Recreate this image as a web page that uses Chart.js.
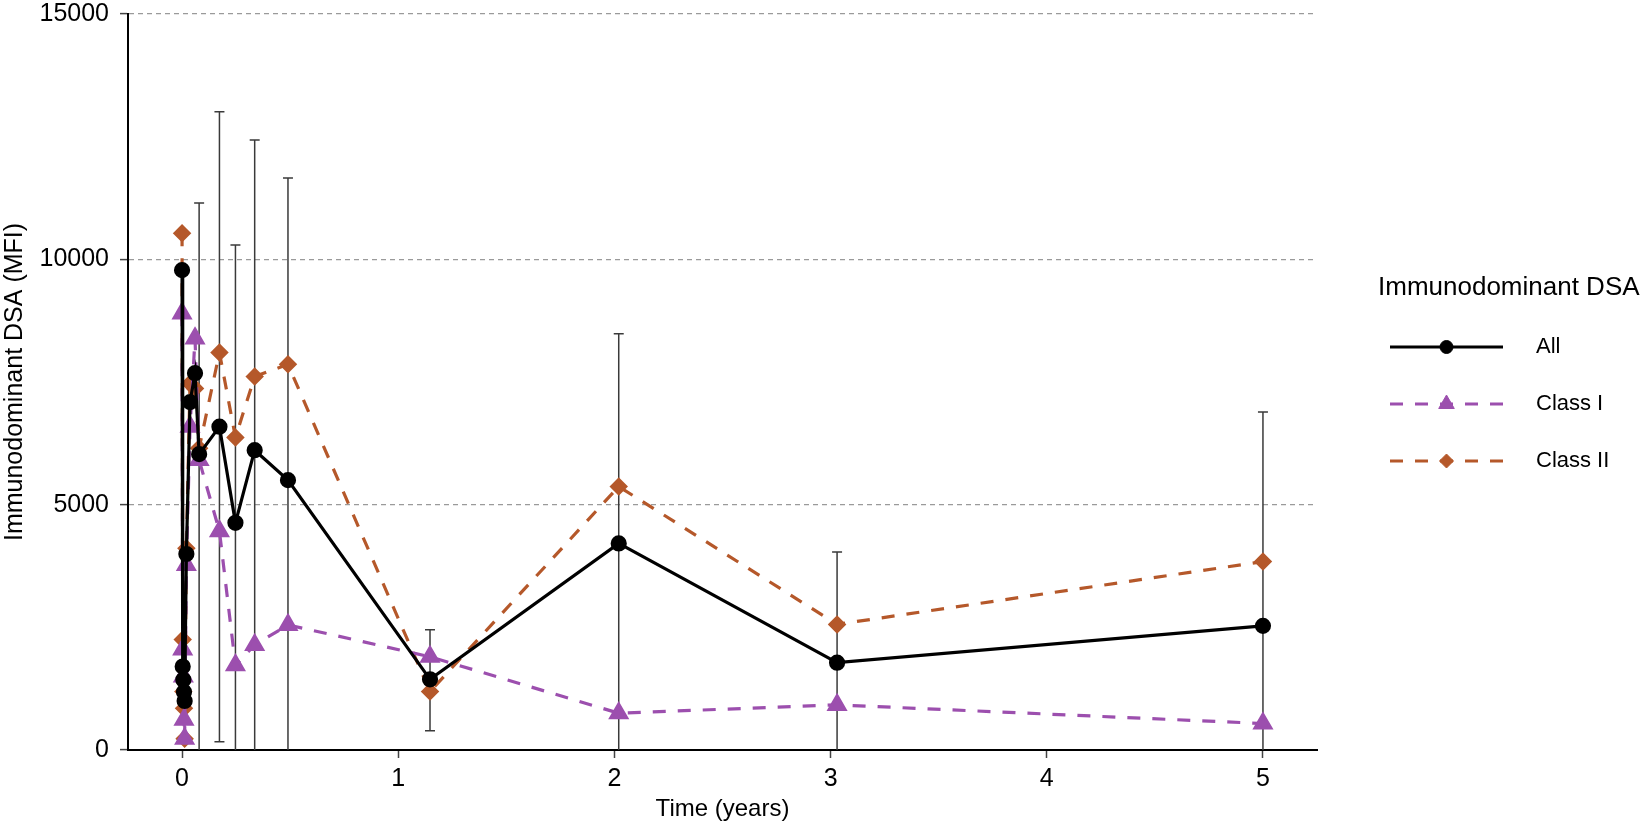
<!DOCTYPE html>
<html>
<head>
<meta charset="utf-8">
<title>Immunodominant DSA over time</title>
<script src="https://cdn.jsdelivr.net/npm/chart.js@4.4.1/dist/chart.umd.min.js"></script>
<style>
    html, body { margin: 0; padding: 0; background: #fff; }
    .chart-wrap { position: relative; width: 1649px; height: 829px; }
</style>
</head>
<body>
<div class="chart-wrap"><canvas id="dsaChart"></canvas></div>
<script>
// Data (time in years, MFI)
const timeYears = [0, 0.003, 0.006, 0.009, 0.012, 0.02, 0.037, 0.06, 0.079, 0.173, 0.247, 0.336, 0.49, 1.147, 2.02, 3.03, 5.0];
const allMfi    = [9780, 1700, 1430, 1180, 1000, 3995, 7090, 7680, 6030, 6590, 4630, 6110, 5500, 1440, 4210, 1780, 2530];
const class1Mfi = [8900, 2050, 1500, 620, 230, 3770, 6590, 8390, 5910, 4460, 1730, 2140, 2550, 1900, 750, 920, 540];
const class2Mfi = [10530, 2250, 1190, 850, 230, 4110, 7470, 7370, 6150, 8100, 6370, 7610, 7860, 1190, 5370, 2560, 3840];

// error bars of the "All" series (upper / lower end), null = none drawn
const allErrHigh = [null, null, null, null, null, null, null, null, 11150, 13010, 10290, 12430, 11660, 2450, 8485, 4035, 6890];
const allErrLow  = [null, null, null, null, null, null, null, null, -300, 170, -1030, -200, -650, 390, -60, -475, -1840];

const xTicks = [0, 1, 2, 3, 4, 5];
const yTicks = [0, 5000, 10000, 15000];
const seriesNames = ['All', 'Class I', 'Class II'];
const legendTitle = 'Immunodominant DSA';

document.addEventListener('DOMContentLoaded', () => {
    const FONT = '"Liberation Sans", Arial, sans-serif';
    const toPoints = (ys) => ys.map((y, i) => ({ x: timeYears[i], y }));

    // 1. Error bars drawn under the lines
    const errorBars = {
        id: 'errorBars',
        beforeDatasetsDraw(chart) {
            const { ctx, chartArea, scales: { x, y } } = chart;
            ctx.save();
            ctx.beginPath();
            ctx.rect(chartArea.left, chartArea.top - 2, chartArea.right - chartArea.left, chartArea.bottom - chartArea.top + 2);
            ctx.clip();
            ctx.strokeStyle = '#3a3a3a';
            ctx.lineWidth = 1.5;
            allErrHigh.forEach((hi, i) => {
                if (hi === null) return;
                const px = x.getPixelForValue(timeYears[i]);
                const top = y.getPixelForValue(hi);
                const bot = y.getPixelForValue(allErrLow[i]);
                ctx.beginPath();
                ctx.moveTo(px, top);
                ctx.lineTo(px, bot);
                ctx.moveTo(px - 5, top);
                ctx.lineTo(px + 5, top);
                if (allErrLow[i] >= 0) {
                    ctx.moveTo(px - 5, bot);
                    ctx.lineTo(px + 5, bot);
                }
                ctx.stroke();
            });
            ctx.restore();
        }
    };

    // 2. Legend on the right, line + marker like the original
    const sideLegend = {
        id: 'sideLegend',
        afterDraw(chart) {
            const { ctx } = chart;
            ctx.save();
            ctx.fillStyle = '#000';
            ctx.textBaseline = 'middle';
            ctx.textAlign = 'left';
            ctx.font = `26px ${FONT}`;
            ctx.fillText(legendTitle, 1378, 288);

            const rows = [347, 404, 461];
            chart.data.datasets.forEach((ds, i) => {
                const yy = rows[i];
                ctx.save();
                ctx.strokeStyle = ds.borderColor;
                ctx.lineWidth = ds.borderWidth;
                ctx.setLineDash(ds.borderDash || []);
                ctx.beginPath();
                ctx.moveTo(1390, yy);
                ctx.lineTo(1503, yy);
                ctx.stroke();
                ctx.restore();

                ctx.save();
                ctx.fillStyle = ds.pointBackgroundColor;
                ctx.strokeStyle = ds.pointBorderColor;
                ctx.lineWidth = 1;
                Chart.helpers.drawPoint(ctx, {
                    pointStyle: ds.pointStyle,
                    radius: ds.pointRadius,
                    rotation: 0,
                    borderWidth: 1
                }, 1446.5, yy);
                ctx.restore();

                ctx.fillStyle = '#000';
                ctx.font = `22px ${FONT}`;
                ctx.fillText(seriesNames[i], 1536, yy);
            });
            ctx.restore();
        }
    };

    const ctx = document.getElementById('dsaChart');
    new Chart(ctx, {
        type: 'line',
        data: {
            datasets: [
                {
                    label: seriesNames[0],
                    data: toPoints(allMfi),
                    borderColor: '#000000',
                    borderWidth: 3.2,
                    pointStyle: 'circle',
                    pointRadius: 6.5,
                    pointBackgroundColor: '#000000',
                    pointBorderColor: '#000000',
                    tension: 0
                },
                {
                    label: seriesNames[1],
                    data: toPoints(class1Mfi),
                    borderColor: '#9c4fae',
                    borderWidth: 3.2,
                    borderDash: [13, 12],
                    pointStyle: 'triangle',
                    pointRadius: 9,
                    pointBackgroundColor: '#9c4fae',
                    pointBorderColor: '#9c4fae',
                    tension: 0
                },
                {
                    label: seriesNames[2],
                    data: toPoints(class2Mfi),
                    borderColor: '#b5582a',
                    borderWidth: 3.2,
                    borderDash: [13, 12],
                    pointStyle: 'rectRot',
                    pointRadius: 7,
                    pointBackgroundColor: '#b5582a',
                    pointBorderColor: '#b5582a',
                    tension: 0
                }
            ]
        },
        options: {
            responsive: true,
            maintainAspectRatio: false,
            animation: false,
            devicePixelRatio: 1,
            layout: { padding: { left: 0, right: 332, top: 14, bottom: 0 } },
            plugins: {
                legend: { display: false },
                tooltip: { enabled: false }
            },
            scales: {
                x: {
                    type: 'linear',
                    min: -0.25,
                    max: 5.25,
                    afterBuildTicks: (scale) => { scale.ticks = xTicks.map(v => ({ value: v })); },
                    afterFit: (scale) => { scale.height = 79; },
                    ticks: {
                        color: '#000',
                        font: { family: FONT, size: 25 },
                        padding: 6,
                        maxRotation: 0,
                        callback: (v) => String(v)
                    },
                    grid: {
                        drawOnChartArea: false,
                        drawTicks: true,
                        tickLength: 8,
                        tickColor: '#444',
                        tickWidth: 1.5
                    },
                    border: { display: true, color: '#000', width: 2 },
                    title: {
                        display: true,
                        text: 'Time (years)',
                        color: '#000',
                        font: { family: FONT, size: 24 },
                        padding: { top: 0, bottom: 5 }
                    }
                },
                y: {
                    type: 'linear',
                    min: 0,
                    max: 15000,
                    afterBuildTicks: (scale) => { scale.ticks = yTicks.map(v => ({ value: v })); },
                    afterFit: (scale) => {
                        scale.width = 128;
                        scale.paddingTop = 0;
                        scale.paddingBottom = 0;
                    },
                    ticks: {
                        color: '#000',
                        font: { family: FONT, size: 25 },
                        padding: 11,
                        callback: (v) => String(v)
                    },
                    grid: {
                        drawTicks: true,
                        tickLength: 8,
                        tickColor: '#444',
                        tickWidth: 1.5,
                        tickBorderDash: [],
                        lineWidth: 1.2,
                        color: (c) => (c.tick && c.tick.value > 0 ? '#9a9a9a' : 'rgba(0,0,0,0)')
                    },
                    border: { display: true, color: '#000', width: 2, dash: [5, 4] },
                    title: {
                        display: true,
                        text: 'Immunodominant DSA (MFI)',
                        color: '#000',
                        font: { family: FONT, size: 25 },
                        padding: { top: 0, bottom: 0 }
                    }
                }
            }
        },
        plugins: [errorBars, sideLegend]
    });
});
</script>
</body>
</html>
